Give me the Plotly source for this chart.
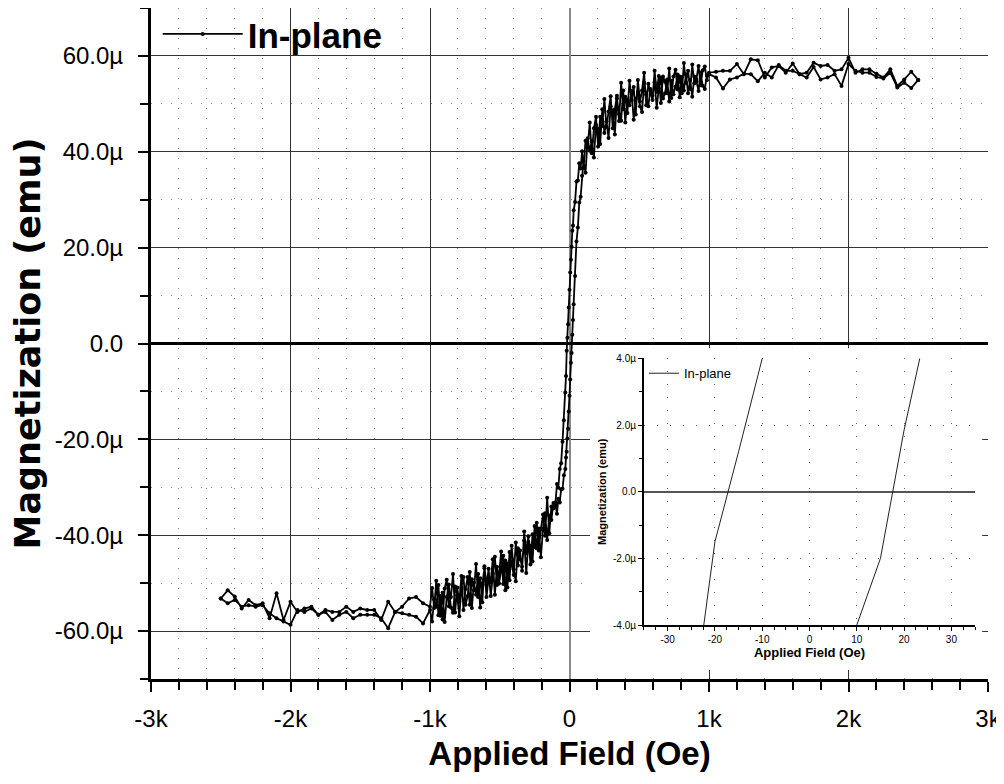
import plotly.graph_objects as go

# ---------------- data ----------------
SERIES_NAME = "In-plane"

# Applied field values (Oe), ascending order
H_FIELD = [
    # high negative field
    -2500, -2450, -2400, -2350, -2300, -2250, -2200, -2150, -2100, -2050,
    -2000, -1950, -1900, -1850, -1800, -1750, -1700, -1650, -1600, -1550,
    -1500, -1450, -1400, -1350, -1300, -1250, -1200, -1150, -1100, -1050, -1000,
    # approach to negative saturation
    -985, -970, -955, -940, -925, -910, -895, -880, -865, -850,
    -835, -820, -805, -790, -775, -760, -745, -730, -715, -700,
    -685, -670, -655, -640, -625, -610, -595, -580, -565, -550,
    -535, -520, -505, -490, -475, -460, -445, -430, -415, -400,
    -385, -370, -355, -340, -325, -310, -295, -280, -265, -250,
    -235, -220, -205, -190, -175, -160, -145, -130, -115,
    # switching region
    -100, -90, -80, -70, -60, -50, -40, -30, -25, -20, -15, -10, -5, 0,
    5, 10, 15, 20, 25, 30, 40, 50, 60, 70, 80, 90,
    # approach to positive saturation
    100, 115, 130, 145, 160, 175, 190, 205, 220, 235,
    250, 265, 280, 295, 310, 325, 340, 355, 370, 385,
    400, 415, 430, 445, 460, 475, 490, 505, 520, 535,
    550, 565, 580, 595, 610, 625, 640, 655, 670, 685,
    700, 715, 730, 745, 760, 775, 790, 805, 820, 835,
    850, 865, 880, 895, 910, 925, 940, 955, 970, 985,
    # high positive field
    1000, 1050, 1100, 1150, 1200, 1250, 1300, 1350, 1400, 1450, 1500, 1550,
    1600, 1650, 1700, 1750, 1800, 1850, 1900, 1950, 2000, 2050, 2100, 2150,
    2200, 2250, 2300, 2350, 2400, 2450, 2500,
]

# Descending branch (field swept +2.5k -> -2.5k), micro-emu, at the fields of H_FIELD
M_DESC = [
    -53.2, -51.5, -52.8, -55.3, -53.5, -54.6, -54.2, -57.3, -52.1, -57.7,
    -53.9, -56.0, -55.3, -54.9, -56.6, -55.6, -56.0, -56.0, -54.9, -56.0,
    -55.3, -55.6, -55.6, -57.7, -53.9, -56.0, -54.9, -53.2, -52.9, -54.2, -54.9,
    -51.0, -55.2, -49.5, -56.7, -52.7, -57.6, -51.1, -49.3, -54.8, -52.9,
    -48.1, -56.1, -50.9, -53.9, -48.5, -55.6, -51.2, -48.7, -54.5, -49.2,
    -51.5, -46.0, -52.9, -49.0, -54.0, -46.5, -50.4, -47.0, -52.7, -48.0,
    -44.5, -50.4, -48.3, -43.4, -50.2, -45.3, -50.9, -43.5, -45.7, -48.3,
    -41.5, -46.3, -43.2, -47.4, -39.2, -43.7, -40.2, -46.1, -39.8, -42.4,
    -37.4, -43.2, -38.7, -35.7, -40.1, -32.2, -39.6, -34.0, -34.4,
    -33.1, -29.3, -30.1, -26.2, -25.0, -20.5, -16.0, -10.2, -6.8, -1.5,
    1.2, 4.0, 7.5, 11.2, 14.8, 17.5, 20.2, 23.5, 24.6, 27.8, 29.5, 33.8,
    34.0, 37.6, 36.5, 40.1,
    36.6, 42.3, 40.9, 46.1, 39.7, 44.9, 47.3, 41.1, 47.3, 45.4,
    51.0, 45.2, 48.4, 51.6, 44.9, 48.9, 51.7, 46.4, 54.4, 48.9,
    51.5, 48.1, 54.8, 50.7, 53.5, 47.8, 55.0, 50.5, 52.8, 56.5,
    49.7, 54.2, 52.8, 50.8, 56.9, 52.5, 55.8, 50.2, 55.7, 54.6,
    52.2, 57.4, 51.2, 55.7, 57.1, 53.0, 55.7, 52.2, 58.5, 54.4,
    56.9, 53.1, 58.2, 54.3, 55.2, 57.9, 53.9, 57.0, 57.8, 54.9,
    56.5, 56.7, 56.9, 56.9, 58.3, 56.2, 59.3, 59.1, 55.5, 57.6, 57.9, 56.5,
    58.4, 56.2, 56.5, 58.6, 57.9, 58.1, 56.9, 57.2, 59.6, 56.5, 57.2, 57.2,
    56.3, 55.5, 57.2, 53.75, 55.1, 56.7, 55.0,
]

# Ascending branch (field swept -2.5k -> +2.5k), micro-emu
M_ASC = [
    -53.2, -54.2, -53.5, -54.9, -54.6, -54.9, -54.6, -56.3, -57.3, -58.0,
    -58.7, -55.6, -56.0, -55.3, -56.6, -56.0, -57.7, -56.6, -56.0, -57.3,
    -56.6, -56.6, -56.6, -57.3, -59.4, -56.0, -56.3, -56.6, -57.0, -58.4, -55.6,
    -58.0, -53.4, -54.9, -50.4, -56.8, -52.0, -58.1, -52.9, -50.3, -55.1,
    -56.2, -50.7, -52.6, -56.9, -50.9, -48.7, -54.5, -52.7, -47.7, -55.2,
    -49.9, -52.4, -48.1, -55.1, -50.2, -46.9, -52.9, -48.9, -49.8, -45.0,
    -52.4, -46.6, -50.1, -47.3, -44.3, -51.5, -45.9, -49.4, -42.2, -47.1,
    -49.6, -42.7, -45.0, -46.6, -41.1, -47.9, -41.4, -42.2, -45.5, -38.1,
    -42.7, -38.6, -44.6, -38.7, -35.4, -41.0, -35.9, -36.8, -33.3,
    -33.7, -35.5, -32.4, -33.2, -30.4, -30.3, -27.5, -26.2, -23.8, -22.6,
    -19.8, -17.8, -14.2, -10.9, -7.5, -4.0, -2.0, 1.85, 4.9, 8.2, 14.1, 21.3,
    24.2, 29.4, 30.6, 35.0,
    38.1, 35.6, 42.8, 40.2, 42.2, 38.8, 45.6, 44.8, 41.6, 48.9,
    43.9, 46.3, 42.9, 49.5, 48.5, 43.6, 51.1, 47.9, 46.5, 52.8,
    46.1, 50.9, 49.7, 52.7, 46.7, 51.0, 52.5, 49.5, 48.3, 54.4,
    51.9, 49.5, 53.1, 51.7, 54.5, 49.2, 53.2, 55.4, 51.1, 52.2,
    55.1, 50.5, 54.8, 52.0, 53.6, 56.1, 51.4, 55.6, 52.8, 56.2,
    52.2, 55.0, 51.5, 55.7, 54.7, 52.7, 56.5, 53.8, 53.1, 55.9,
    56.2, 55.5, 53.2, 55.1, 55.5, 56.3, 56.2, 54.7, 56.5, 55.5, 58.1, 56.9,
    56.9, 56.2, 55.5, 57.7, 55.1, 55.5, 56.2, 53.75, 58.3, 56.9, 56.5, 56.5,
    55.6, 55.3, 56.5, 53.4, 54.4, 53.3, 55.0,
]

assert len(H_FIELD) == len(M_DESC) == len(M_ASC)

X_TICKS = [-3000, -2000, -1000, 0, 1000, 2000, 3000]
X_TICK_LABELS = ["-3k", "-2k", "-1k", "0", "1k", "2k", "3k"]
Y_TICKS = [-60, -40, -20, 0, 20, 40, 60]
Y_TICK_LABELS = ["-60.0µ", "-40.0µ", "-20.0µ", "0.0", "20.0µ", "40.0µ", "60.0µ"]

INSET_X_TICKS = [-30, -20, -10, 0, 10, 20, 30]
INSET_X_LABELS = ["-30", "-20", "-10", "0", "10", "20", "30"]
INSET_Y_TICKS = [-4, -2, 0, 2, 4]
INSET_Y_LABELS = ["-4.0µ", "-2.0µ", "0.0", "2.0µ", "4.0µ"]

# full loop: descending sweep followed by ascending sweep
loop_h = H_FIELD[::-1] + H_FIELD
loop_m = M_DESC[::-1] + M_ASC

FONT = "Liberation Sans, Arial, sans-serif"
NARROW = "Liberation Sans Narrow, Arial Narrow, Liberation Sans, Arial, sans-serif"
WIDE = "DejaVu Sans, Liberation Sans, Arial, sans-serif"

fig = go.Figure()

# main loop
fig.add_trace(go.Scatter(
    x=loop_h, y=loop_m, mode="lines+markers", name=SERIES_NAME,
    line=dict(color="black", width=1.8),
    marker=dict(color="black", size=4, symbol="circle"),
    xaxis="x", yaxis="y", legend="legend",
))

# white cover behind the inset (empty subplot whose background hides the main grid)
fig.add_trace(go.Scatter(x=[None], y=[None], showlegend=False, hoverinfo="skip",
                         xaxis="x2", yaxis="y2"))

# inset: zoom on the coercive region
fig.add_trace(go.Scatter(
    x=loop_h, y=loop_m, mode="lines", name=SERIES_NAME,
    line=dict(color="#222", width=1),
    xaxis="x3", yaxis="y3", legend="legend2",
))

minor_grid = dict(showgrid=True, gridcolor="#8a8a8a", griddash="1px,9px", gridwidth=1)

# the page body adds an 8 px offset, so the figure is 8 px smaller and the
# margins are shifted to keep the plot area where the reference has it
fig.update_layout(
    width=996, height=776,
    margin=dict(l=143, r=16, t=0, b=105, autoexpand=False),
    paper_bgcolor="white", plot_bgcolor="white",
    font=dict(family=FONT, color="black"),
    showlegend=True,
    legend=dict(x=0.008, y=1.005, xanchor="left", yanchor="top",
                bgcolor="rgba(0,0,0,0)", itemwidth=80,
                font=dict(family=FONT, size=35, weight="bold", color="black")),
    legend2=dict(x=0.589, y=0.478, xanchor="left", yanchor="top",
                 bgcolor="rgba(0,0,0,0)",
                 font=dict(family=FONT, size=13, color="black")),
    xaxis=dict(
        domain=[0, 1], anchor="y", range=[-3000, 3000], automargin=False,
        tickmode="array", tickvals=X_TICKS, ticktext=X_TICK_LABELS,
        ticks="outside", ticklen=10, tickwidth=2, tickcolor="black",
        ticklabelstandoff=6,
        tickfont=dict(family=NARROW, size=24, color="black"),
        showline=True, linewidth=3, linecolor="black",
        showgrid=True, gridcolor="#333", gridwidth=1.2,
        zeroline=True, zerolinecolor="#8a8a8a", zerolinewidth=2,
        minor=dict(tickmode="linear", tick0=0, dtick=200, ticks="outside",
                   ticklen=8, tickwidth=2, tickcolor="black", **minor_grid),
        title=dict(text="Applied Field (Oe)", standoff=12,
                   font=dict(family=FONT, size=33, weight="bold", color="black")),
    ),
    yaxis=dict(
        domain=[0, 1], anchor="x", range=[-70, 70], automargin=False,
        tickmode="array", tickvals=Y_TICKS, ticktext=Y_TICK_LABELS,
        ticks="outside", ticklen=10, tickwidth=2, tickcolor="black",
        ticklabelstandoff=10,
        tickfont=dict(family=FONT, size=24, color="black"),
        showline=True, linewidth=3, linecolor="black",
        showgrid=True, gridcolor="#333", gridwidth=1.2,
        zeroline=True, zerolinecolor="black", zerolinewidth=3,
        minor=dict(tickmode="linear", tick0=0, dtick=10, ticks="outside",
                   ticklen=8, tickwidth=2, tickcolor="black", **minor_grid),
        title=dict(text="Magnetization (emu)", standoff=6,
                   font=dict(family=WIDE, size=35, weight="bold", color="black")),
    ),
    xaxis2=dict(domain=[0.5245, 0.993], anchor="y2", range=[0, 1], visible=False),
    yaxis2=dict(domain=[0.0134, 0.493], anchor="x2", range=[0, 1], visible=False),
    xaxis3=dict(
        domain=[0.589, 0.9845], anchor="y3", range=[-35, 35], automargin=False,
        tickmode="array", tickvals=INSET_X_TICKS, ticktext=INSET_X_LABELS,
        ticks="outside", ticklen=4, tickwidth=1, tickcolor="black",
        tickfont=dict(family=FONT, size=10, color="black"),
        showline=True, linewidth=2, linecolor="black",
        showgrid=True, gridcolor="#666", griddash="1px,12px", gridwidth=1,
        zeroline=False,
        minor=dict(tickmode="linear", tick0=0, dtick=2.5, ticks="outside",
                   ticklen=3, tickwidth=1, tickcolor="black"),
        title=dict(text="Applied Field (Oe)", standoff=4,
                   font=dict(family=FONT, size=13, weight="bold", color="black")),
    ),
    yaxis3=dict(
        domain=[0.0804, 0.4777], anchor="x3", range=[-4, 4], automargin=False,
        tickmode="array", tickvals=INSET_Y_TICKS, ticktext=INSET_Y_LABELS,
        ticks="outside", ticklen=4, tickwidth=1, tickcolor="black",
        tickfont=dict(family=FONT, size=10, color="black"),
        showline=True, linewidth=2, linecolor="black",
        showgrid=True, gridcolor="#666", griddash="1px,12px", gridwidth=1,
        zeroline=True, zerolinecolor="#555", zerolinewidth=1.5,
        minor=dict(tickmode="linear", tick0=0, dtick=1, ticks="outside",
                   ticklen=3, tickwidth=1, tickcolor="black"),
        title=dict(text="Magnetization (emu)", standoff=4,
                   font=dict(family=FONT, size=11, weight="bold", color="black")),
    ),
)

fig.write_html("out.html")
